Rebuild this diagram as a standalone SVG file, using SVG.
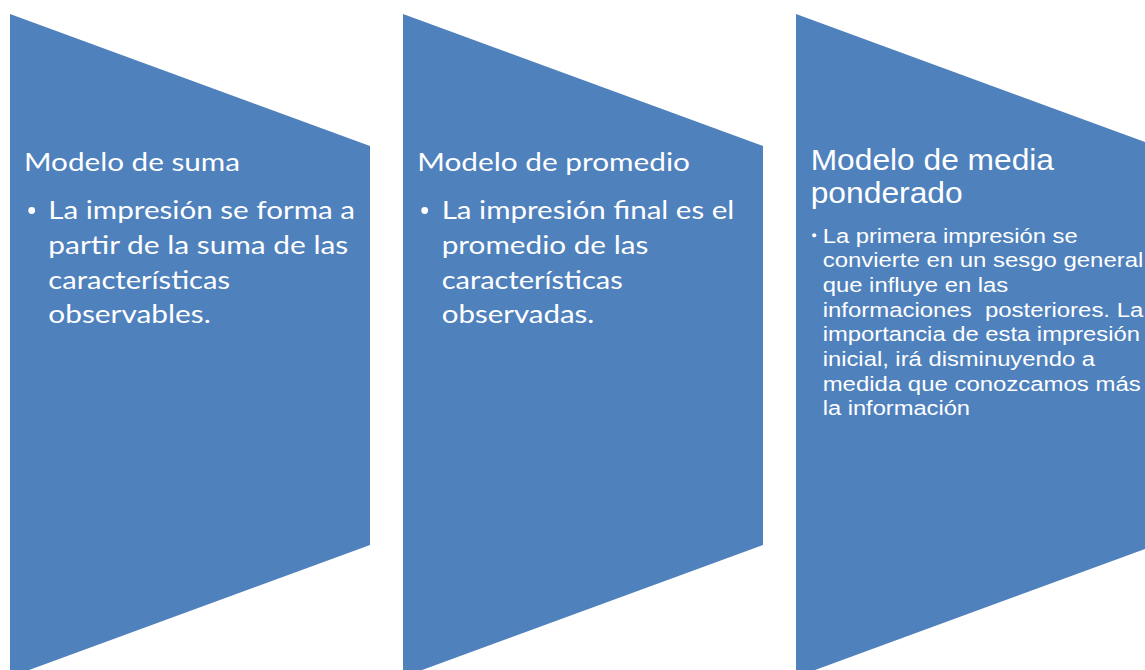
<svg xmlns="http://www.w3.org/2000/svg" width="1145" height="670" viewBox="0 0 1145 670">
  <style>
    .shape { fill: #4F81BD; stroke: none; }
    .cal { font-family: Lato, "Open Sans", "Liberation Sans", sans-serif; fill: #FFFFFF; }
    .ari { font-family: "Liberation Sans", Arial, sans-serif; fill: #FFFFFF; }
    .t1 { font-size: 25px; }
    .b1 { font-size: 25px; }
    .t3 { font-size: 29px; }
    .b3 { font-size: 19.5px; }
    .dot { fill: #FFFFFF; }
  </style>
  <rect x="0" y="0" width="1145" height="670" fill="#FFFFFF"/>

  <g id="node-suma">
    <polygon class="shape" points="10,14 370,146 370,545 10,677"/>
    <text class="cal t1" x="24" y="170.7" textLength="216" lengthAdjust="spacingAndGlyphs">Modelo de suma</text>
    <circle class="dot" cx="31.7" cy="210.5" r="3.4"/>
    <text class="cal b1" x="48.3" y="219.3" textLength="306.7" lengthAdjust="spacingAndGlyphs">La impresión se forma a</text>
    <text class="cal b1" x="48.3" y="254" textLength="300" lengthAdjust="spacingAndGlyphs">partir de la suma de las</text>
    <text class="cal b1" x="48.3" y="288.5" textLength="181.7" lengthAdjust="spacingAndGlyphs">características</text>
    <text class="cal b1" x="48.3" y="323.2" textLength="162.4" lengthAdjust="spacingAndGlyphs">observables.</text>
  </g>

  <g id="node-promedio">
    <polygon class="shape" points="403,14 763,146 763,545 403,677"/>
    <text class="cal t1" x="417.3" y="170.7" textLength="272.7" lengthAdjust="spacingAndGlyphs">Modelo de promedio</text>
    <circle class="dot" cx="424.7" cy="210.5" r="3.4"/>
    <text class="cal b1" x="441.7" y="219.3" textLength="292.6" lengthAdjust="spacingAndGlyphs">La impresión final es el</text>
    <text class="cal b1" x="441.7" y="254" textLength="206.6" lengthAdjust="spacingAndGlyphs">promedio de las</text>
    <text class="cal b1" x="441.7" y="288.5" textLength="181" lengthAdjust="spacingAndGlyphs">características</text>
    <text class="cal b1" x="441.7" y="323.2" textLength="152.6" lengthAdjust="spacingAndGlyphs">observadas.</text>
  </g>

  <g id="node-ponderado">
    <polygon class="shape" points="796,14 1156,146 1156,545 796,677"/>
    <text class="ari t3" x="810.7" y="169.5" textLength="243.3" lengthAdjust="spacingAndGlyphs">Modelo de media</text>
    <text class="ari t3" x="810.7" y="202.7" textLength="152" lengthAdjust="spacingAndGlyphs">ponderado</text>
    <circle class="dot" cx="814.2" cy="235.3" r="2.1"/>
    <text class="ari b3" x="822.7" y="242.5" textLength="255" lengthAdjust="spacingAndGlyphs">La primera impresión se</text>
    <text class="ari b3" x="822.7" y="267.2" textLength="320.6" lengthAdjust="spacingAndGlyphs">convierte en un sesgo general</text>
    <text class="ari b3" x="822.7" y="291.9" textLength="185.6" lengthAdjust="spacingAndGlyphs">que influye en las</text>
    <text class="ari b3" x="822.7" y="316.6" textLength="320.6" lengthAdjust="spacingAndGlyphs" xml:space="preserve" style="white-space:pre">informaciones  posteriores. La</text>
    <text class="ari b3" x="822.7" y="341.3" textLength="317.3" lengthAdjust="spacingAndGlyphs">importancia de esta impresión</text>
    <text class="ari b3" x="822.7" y="366" textLength="272.3" lengthAdjust="spacingAndGlyphs">inicial, irá disminuyendo a</text>
    <text class="ari b3" x="822.7" y="390.7" textLength="318" lengthAdjust="spacingAndGlyphs">medida que conozcamos más</text>
    <text class="ari b3" x="822.7" y="415.4" textLength="147.3" lengthAdjust="spacingAndGlyphs">la información</text>
  </g>

  <g id="connectors"></g>
</svg>
